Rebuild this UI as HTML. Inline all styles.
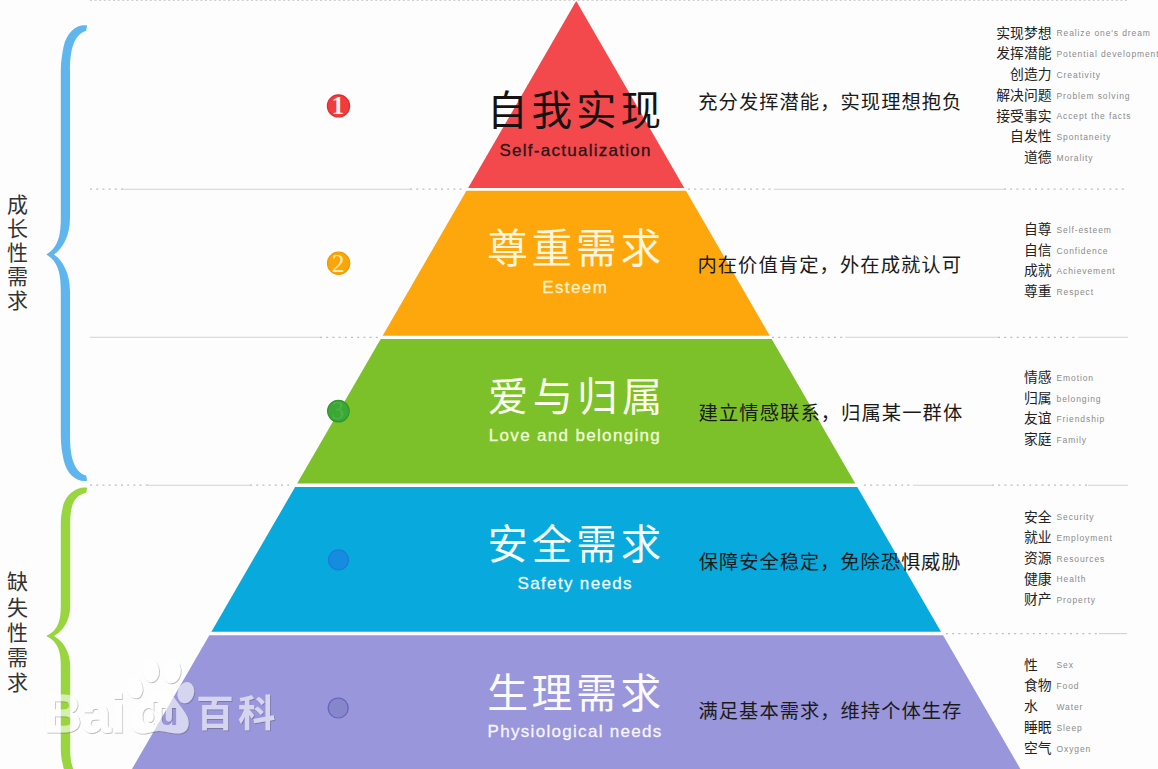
<!DOCTYPE html>
<html lang="zh"><head><meta charset="utf-8"><title>Maslow</title>
<style>
html,body{margin:0;padding:0;background:#fdfdfd;}
body{width:1158px;height:769px;overflow:hidden;font-family:"Liberation Sans","Noto Sans CJK SC",sans-serif;}
svg{display:block;}
text{font-family:"Liberation Sans","Noto Sans CJK SC",sans-serif;}
.bai{font-weight:bold;font-size:54.5px;}
.du{font-weight:bold;font-size:32px;}
.num{font-family:"Liberation Serif",serif;font-size:25.5px;}
.en{font-size:8.5px;fill:#8a8a8a;letter-spacing:0.9px;}
.cn{font-size:13.8px;fill:#222;}
.desc{font-size:19.3px;fill:#1a1a1a;}
.side{font-size:21px;fill:#333;}
</style></head><body>
<svg width="1158" height="769" viewBox="0 0 1158 769">
<defs>
<mask id="pm" maskUnits="userSpaceOnUse" x="120" y="680" width="80" height="60"><rect x="120" y="680" width="80" height="60" fill="#fff"/><text class="du" x="141.2" y="725.2" fill="#000" textLength="37" lengthAdjust="spacingAndGlyphs">du</text></mask>
<filter id="wsh" x="-5%" y="-10%" width="110%" height="125%"><feDropShadow dx="0.8" dy="1" stdDeviation="0.7" flood-color="#444" flood-opacity="0.6"/></filter>
</defs>
<polygon points="576.2,1 576.2,1 684.3,187.9 468.1,187.9" fill="#f3494c"/>
<polygon points="466.42,190.8 685.98,190.8 769.79,335.7 382.61,335.7" fill="#fda70c"/>
<polygon points="380.7,339 771.7,339 855.28,483.5 297.12,483.5" fill="#7cc12a"/>
<polygon points="295.1,487 857.3,487 941,631.7 211.4,631.7" fill="#08a9dc"/>
<polygon points="209.32,635.3 943.08,635.3 1020.99,770 131.41,770" fill="#9a96db"/>
<line x1="90" y1="0.4" x2="1128" y2="0.4" stroke="#cfcfcf" stroke-width="1.4" stroke-dasharray="2 2.6"/>
<line x1="90" y1="189.2" x2="123" y2="189.2" stroke="#bdbdbd" stroke-width="1.3" stroke-dasharray="2 4.2"/>
<line x1="123" y1="189.2" x2="410" y2="189.2" stroke="#d2d2d2" stroke-width="1.1"/>
<line x1="410" y1="189.2" x2="463" y2="189.2" stroke="#bdbdbd" stroke-width="1.3" stroke-dasharray="2 4.2"/>
<line x1="688" y1="189.2" x2="774" y2="189.2" stroke="#bdbdbd" stroke-width="1.3" stroke-dasharray="2 4.2"/>
<line x1="774" y1="189.2" x2="1004" y2="189.2" stroke="#d2d2d2" stroke-width="1.1"/>
<line x1="1004" y1="189.2" x2="1128" y2="189.2" stroke="#bdbdbd" stroke-width="1.3" stroke-dasharray="2 4.2"/>
<line x1="89.7" y1="337.3" x2="320" y2="337.3" stroke="#d2d2d2" stroke-width="1.1"/>
<line x1="320" y1="337.3" x2="378" y2="337.3" stroke="#bdbdbd" stroke-width="1.3" stroke-dasharray="2 4.2"/>
<line x1="772" y1="337.3" x2="845" y2="337.3" stroke="#bdbdbd" stroke-width="1.3" stroke-dasharray="2 4.2"/>
<line x1="845" y1="337.3" x2="998" y2="337.3" stroke="#d2d2d2" stroke-width="1.1"/>
<line x1="998" y1="337.3" x2="1079" y2="337.3" stroke="#bdbdbd" stroke-width="1.3" stroke-dasharray="2 4.2"/>
<line x1="1079" y1="337.3" x2="1128" y2="337.3" stroke="#d2d2d2" stroke-width="1.1"/>
<line x1="90" y1="485.2" x2="148" y2="485.2" stroke="#bdbdbd" stroke-width="1.3" stroke-dasharray="2 4.2"/>
<line x1="148" y1="485.2" x2="250" y2="485.2" stroke="#d2d2d2" stroke-width="1.1"/>
<line x1="250" y1="485.2" x2="293" y2="485.2" stroke="#bdbdbd" stroke-width="1.3" stroke-dasharray="2 4.2"/>
<line x1="864" y1="485.2" x2="913" y2="485.2" stroke="#bdbdbd" stroke-width="1.3" stroke-dasharray="2 4.2"/>
<line x1="913" y1="485.2" x2="992" y2="485.2" stroke="#d2d2d2" stroke-width="1.1"/>
<line x1="992" y1="485.2" x2="1088" y2="485.2" stroke="#bdbdbd" stroke-width="1.3" stroke-dasharray="2 4.2"/>
<line x1="1088" y1="485.2" x2="1128" y2="485.2" stroke="#d2d2d2" stroke-width="1.1"/>
<line x1="946" y1="633.6" x2="1099" y2="633.6" stroke="#bdbdbd" stroke-width="1.3" stroke-dasharray="2 4.2"/>
<line x1="1099" y1="633.6" x2="1127" y2="633.6" stroke="#d2d2d2" stroke-width="1.1"/>
<path d="M87.1 25.6 C78 23.8 67 31 63.5 47 C62 55 60.8 62 60.8 71 L60.8 217.5 C60.8 234.5 58.8 247 46.3 254.5 C58.8 262 60.8 274.5 60.8 291.5 L60.8 435.4 C60.8 444.4 62 451.4 63.5 459.4 C67 475.4 78 482.6 87.1 480.8 L86.2 475.6 C72 471.4 70 451.4 70 435.4 L70 291.5 C70 273 62.8 260.7 54 254.5 C62.8 248.3 70 236 70 217.5 L70 71 C70 55 72 35 86.2 30.8 Z" fill="#5fb6ef"/>
<path d="M87.1 487.8 C78 486 67 493.2 63.5 504.36 C62 510.6 60.8 516.06 60.8 523.08 L60.8 605.66 C60.8 619.6 58.8 629.85 46.3 636 C58.8 642.15 60.8 652.4 60.8 666.34 L60.8 748.92 C60.8 755.94 62 761.4 63.5 767.64 C67 778.8 78 786 87.1 784.2 L86.2 779 C72 777 70.2 761.4 70.2 748.92 L70.2 666.34 C70.2 651.17 62.8 641.08 54 636 C62.8 630.92 70.2 620.83 70.2 605.66 L70.2 523.08 C70.2 510.6 72 495 86.2 493 Z" fill="#99d53e"/>
<circle cx="338.5" cy="105.9" r="11.1" fill="#ef3d3e" stroke="#e42a2e" stroke-width="1.2"/>
<text class="num" x="337.9" y="114.2" text-anchor="middle" fill="#fff1e6" font-weight="bold">1</text>
<circle cx="338.6" cy="263.3" r="11.1" fill="#f9a60c" stroke="#f09c00" stroke-width="1.2"/>
<text class="num" x="338" y="271.6" text-anchor="middle" fill="#ffeaa8" font-weight="normal">2</text>
<circle cx="338.4" cy="411.1" r="10.8" fill="#3ba836" stroke="#2e982b" stroke-width="1.2"/>
<text class="num" x="337.8" y="419.4" text-anchor="middle" fill="#4cb243" font-weight="normal">3</text>
<circle cx="338.5" cy="559.9" r="10" fill="#148ddf" stroke="#1c7bd8" stroke-width="1.2"/>
<circle cx="338.2" cy="708" r="10" fill="#8686cd" stroke="#6663bb" stroke-width="1.2"/>
<text x="487.01" y="125.13" font-size="40.6" letter-spacing="3.95" fill="#161213">自我实现</text>
<text x="487.17" y="262.54" font-size="40.68" letter-spacing="3.78" fill="#fff6dc">尊重需求</text>
<text x="488.07" y="410.84" font-size="40.19" letter-spacing="4.45" fill="#fbffee">爱与归属</text>
<text x="487.41" y="558.56" font-size="40.42" letter-spacing="4.04" fill="#f6fdff">安全需求</text>
<text x="487.24" y="707.52" font-size="40.9" letter-spacing="3.46" fill="#fbfaff">生理需求</text>
<text x="499.5" y="155.5" font-size="17" fill="#2a1416" stroke="#2a1416" stroke-width="0.3" textLength="150.9" lengthAdjust="spacing">Self-actualization</text>
<text x="542.3" y="292.6" font-size="17" fill="#fff1c4" stroke="#fff1c4" stroke-width="0.3" textLength="64.5" lengthAdjust="spacing">Esteem</text>
<text x="488.8" y="440.7" font-size="17" fill="#f3ffd9" stroke="#f3ffd9" stroke-width="0.3" textLength="171" lengthAdjust="spacing">Love and belonging</text>
<text x="517.6" y="588.6" font-size="17" fill="#eefbff" stroke="#eefbff" stroke-width="0.3" textLength="113.9" lengthAdjust="spacing">Safety needs</text>
<text x="487.6" y="737.1" font-size="17" fill="#f7f5ff" stroke="#f7f5ff" stroke-width="0.3" textLength="173.7" lengthAdjust="spacing">Physiological needs</text>
<text class="desc" x="698.25" y="109.47" letter-spacing="1.04">充分发挥潜能，实现理想抱负</text>
<text class="desc" x="697.39" y="271.97" letter-spacing="1.08">内在价值肯定，外在成就认可</text>
<text class="desc" x="698.58" y="420.36" letter-spacing="1.08">建立情感联系，归属某一群体</text>
<text class="desc" x="698.79" y="568.79" letter-spacing="0.93">保障安全稳定，免除恐惧威胁</text>
<text class="desc" x="698.52" y="717.61" letter-spacing="1.01">满足基本需求，维持个体生存</text>
<text class="cn" x="996.3" y="37.67">实现梦想</text>
<text class="en" x="1056.5" y="36.4">Realize one's dream</text>
<text class="cn" x="996.3" y="58.42">发挥潜能</text>
<text class="en" x="1056.5" y="57.15">Potential development</text>
<text class="cn" x="1010.1" y="79.17">创造力</text>
<text class="en" x="1056.5" y="77.9">Creativity</text>
<text class="cn" x="996.3" y="99.92">解决问题</text>
<text class="en" x="1056.5" y="98.65">Problem solving</text>
<text class="cn" x="996.3" y="120.67">接受事实</text>
<text class="en" x="1056.5" y="119.4">Accept the facts</text>
<text class="cn" x="1010.1" y="141.43">自发性</text>
<text class="en" x="1056.5" y="140.15">Spontaneity</text>
<text class="cn" x="1023.9" y="162.18">道德</text>
<text class="en" x="1056.5" y="160.9">Morality</text>
<text class="cn" x="1023.9" y="234.18">自尊</text>
<text class="en" x="1056.5" y="232.9">Self-esteem</text>
<text class="cn" x="1023.9" y="254.78">自信</text>
<text class="en" x="1056.5" y="253.5">Confidence</text>
<text class="cn" x="1023.9" y="275.38">成就</text>
<text class="en" x="1056.5" y="274.1">Achievement</text>
<text class="cn" x="1023.9" y="295.98">尊重</text>
<text class="en" x="1056.5" y="294.7">Respect</text>
<text class="cn" x="1023.9" y="382.18">情感</text>
<text class="en" x="1056.5" y="380.9">Emotion</text>
<text class="cn" x="1023.9" y="402.78">归属</text>
<text class="en" x="1056.5" y="401.5">belonging</text>
<text class="cn" x="1023.9" y="423.38">友谊</text>
<text class="en" x="1056.5" y="422.1">Friendship</text>
<text class="cn" x="1023.9" y="443.98">家庭</text>
<text class="en" x="1056.5" y="442.7">Family</text>
<text class="cn" x="1023.9" y="521.67">安全</text>
<text class="en" x="1056.5" y="520.4">Security</text>
<text class="cn" x="1023.9" y="542.34">就业</text>
<text class="en" x="1056.5" y="541.07">Employment</text>
<text class="cn" x="1023.9" y="563.01">资源</text>
<text class="en" x="1056.5" y="561.74">Resources</text>
<text class="cn" x="1023.9" y="583.68">健康</text>
<text class="en" x="1056.5" y="582.41">Health</text>
<text class="cn" x="1023.9" y="604.36">财产</text>
<text class="en" x="1056.5" y="603.08">Property</text>
<text class="cn" x="1024" y="669.67">性</text>
<text class="en" x="1056.5" y="668.4">Sex</text>
<text class="cn" x="1024" y="690.47">食物</text>
<text class="en" x="1056.5" y="689.2">Food</text>
<text class="cn" x="1024" y="711.27">水</text>
<text class="en" x="1056.5" y="710">Water</text>
<text class="cn" x="1024" y="732.07">睡眠</text>
<text class="en" x="1056.5" y="730.8">Sleep</text>
<text class="cn" x="1024" y="752.88">空气</text>
<text class="en" x="1056.5" y="751.6">Oxygen</text>
<text class="side"><tspan x="7.1" y="212.22">成</tspan><tspan x="7.1" y="236.28">长</tspan><tspan x="7.1" y="260.35">性</tspan><tspan x="7.1" y="284.41">需</tspan><tspan x="7.1" y="308.48">求</tspan></text>
<text class="side"><tspan x="7.1" y="589.18">缺</tspan><tspan x="7.1" y="614.51">失</tspan><tspan x="7.1" y="639.83">性</tspan><tspan x="7.1" y="665.15">需</tspan><tspan x="7.1" y="690.48">求</tspan></text>
<g opacity="0.6" filter="url(#wsh)">
<text class="bai" x="43.5" y="732" fill="#fff" stroke="#fff" stroke-width="0.8" textLength="82" lengthAdjust="spacingAndGlyphs">Bai</text>
<g fill="#fff">
<ellipse cx="134.6" cy="687.5" rx="7.8" ry="11" transform="rotate(-14 134.6 687.5)"/>
<ellipse cx="151" cy="670.5" rx="8" ry="11.7" transform="rotate(-4 151 670.5)"/>
<ellipse cx="172.1" cy="671.7" rx="8.5" ry="11.7" transform="rotate(10 172.1 671.7)"/>
<ellipse cx="185.8" cy="692.7" rx="8.2" ry="10.8" transform="rotate(16 185.8 692.7)"/>
<path mask="url(#pm)" d="M161 689.8 C167 689.8 172 694 176 700 C180 706 185 711 187.5 717 C190 724 188.5 731 182 733 C175 735 168 731.5 159 731 C150 731.5 146 734.5 139 733.2 C131.5 731.5 129.5 724 131.5 718 C134 711 141 705.5 146 699 C150 694 155 689.8 161 689.8 Z"/>
</g>
<text x="196.37" y="727.45" font-size="37.33" font-weight="bold" letter-spacing="4.2" fill="#fff">百科</text>
</g>
</svg>
</body></html>
